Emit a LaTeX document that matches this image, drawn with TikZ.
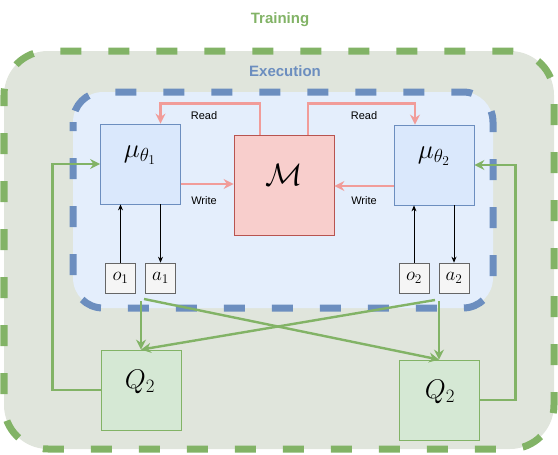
\RequirePackage{fix-cm}
\documentclass[tikz,border=0pt]{standalone}
\usepackage{fontspec}
\setmainfont{Liberation Sans}
\usepackage{amsmath, amssymb}
\usepackage{tikz}
\usetikzlibrary{arrows.meta,calc,positioning}
\definecolor{trgreen}{HTML}{82B366}
\definecolor{exblue}{HTML}{6C8EBF}
\definecolor{trfill}{HTML}{E0E5DC}
\definecolor{exfill}{HTML}{E4EEFC}
\definecolor{mufill}{HTML}{DAE8FC}
\definecolor{memfill}{HTML}{F8CECC}
\definecolor{memline}{HTML}{B85450}
\definecolor{qfill}{HTML}{D5E8D4}
\definecolor{obsfill}{HTML}{F5F5F5}
\definecolor{obsline}{HTML}{666666}
\definecolor{rwpink}{HTML}{F19C99}

\begin{document}
\begin{tikzpicture}[x=1pt,y=-1pt,
    agentbox/.style={draw=exblue, fill=mufill, line width=0.8pt, minimum width=80pt, minimum height=80pt, inner sep=0pt},
    membox/.style={draw=memline, fill=memfill, line width=0.8pt, minimum width=100pt, minimum height=100pt, inner sep=0pt},
    criticbox/.style={draw=trgreen, fill=qfill, line width=0.8pt, minimum width=80pt, minimum height=80pt, inner sep=0pt},
    smallbox/.style={draw=obsline, fill=obsfill, line width=0.6pt, minimum width=30pt, minimum height=30pt, inner sep=0pt, font=\fontsize{19}{21}\selectfont},
    rwarrow/.style={rwpink, line width=2.8pt, -{Stealth[length=10pt,width=10pt]}},
    qarrow/.style={trgreen, line width=2.4pt, -{Stealth[length=10pt,width=10pt]}},
    obsarrow/.style={black, line width=0.8pt, -{Stealth[length=6pt,width=5pt]}},
    rwlabel/.style={font=\fontsize{11}{13}\selectfont},
    biglabel/.style={font=\fontsize{27}{30}\selectfont}]
  \useasboundingbox (0,0) rectangle (558,455);
  % Training and execution areas
  \draw[trgreen, fill=trfill, line width=7pt, dash pattern=on 21pt off 27pt, dash phase=10pt, rounded corners=44pt] (4,51) rectangle (554,449);
  \node[trgreen, font=\fontsize{15}{18}\selectfont\bfseries] (training) at (280,20) {Training};
  \draw[exblue, fill=exfill, line width=7pt, dash pattern=on 21pt off 27pt, dash phase=12pt, rounded corners=30pt] (73,92) rectangle (493,308);
  \node[exblue, font=\fontsize{15}{18}\selectfont\bfseries] (execution) at (285,71) {Execution};

  % Agents and memory
  \node[agentbox] (mu1) at (140.5,164) {};
  \node[agentbox] (mu2) at (434,165) {};
  \node[membox] (mem) at (284,185) {};
  \node[biglabel] (mu1lab) at (140,155) {$\mu_{\theta_1}$};
  \node[biglabel] (mu2lab) at (434,156) {$\mu_{\theta_2}$};
  \node[font=\fontsize{31}{34}\selectfont] (memlab) at (284,175) {$\mathcal{M}$};

  \node[smallbox] (o1) at (120.5,278) {$o_1$};
  \node[smallbox] (a1) at (160.5,278) {$a_1$};
  \node[smallbox] (o2) at (414,278) {$o_2$};
  \node[smallbox] (a2) at (454,278) {$a_2$};

  % Critics
  \node[criticbox] (q1) at (141,390) {};
  \node[criticbox] (q2) at (439,400) {};
  \node[biglabel] (q1lab) at (140,382) {$Q_2$};
  \node[biglabel] (q2lab) at (440,392) {$Q_2$};

  % Observations and actions
  \draw[obsarrow] (o1.north) -- (o1.north |- mu1.south);
  \draw[obsarrow] (mu1.south -| a1.north) -- (a1.north);
  \draw[obsarrow] (o2.north) -- (o2.north |- mu2.south);
  \draw[obsarrow] (mu2.south -| a2.north) -- (a2.north);

  % Read and write
  \draw[rwarrow] ([xshift=-24pt]mem.north) -- ++(0,-31) -| ([xshift=20pt]mu1.north);
  \draw[rwarrow] ([xshift=24pt]mem.north) -- ++(0,-31) -| ([xshift=-19pt]mu2.north);
  \draw[rwarrow] ([yshift=-20pt]mu1.east) -- ([yshift=-20pt]mu1.east -| mem.west);
  \draw[rwarrow] ([yshift=-21pt]mu2.west) -- ([yshift=-21pt]mu2.west -| mem.east);
  \node[rwlabel] (read1) at (204,116) {Read};
  \node[rwlabel] (read2) at (364,116) {Read};
  \node[rwlabel] (write1) at (204,201) {Write};
  \node[rwlabel] (write2) at (364,201) {Write};

  % Critic inputs and gradients
  \coordinate (d1) at (141,301);
  \coordinate (x1) at (144,299);
  \coordinate (d2) at (439,301);
  \coordinate (x2) at (435,300);
  \draw[qarrow] (d1) -- (q1.north);
  \draw[qarrow] (x2) -- (q1.north);
  \draw[qarrow] (x1) -- (q2.north);
  \draw[qarrow] (d2) -- (q2.north);
  \draw[qarrow] (q1.west) -- ++(-48,0) |- (mu1.west);
  \draw[qarrow] (q2.east) -- ++(36,0) |- (mu2.east);
\end{tikzpicture}
\end{document}
